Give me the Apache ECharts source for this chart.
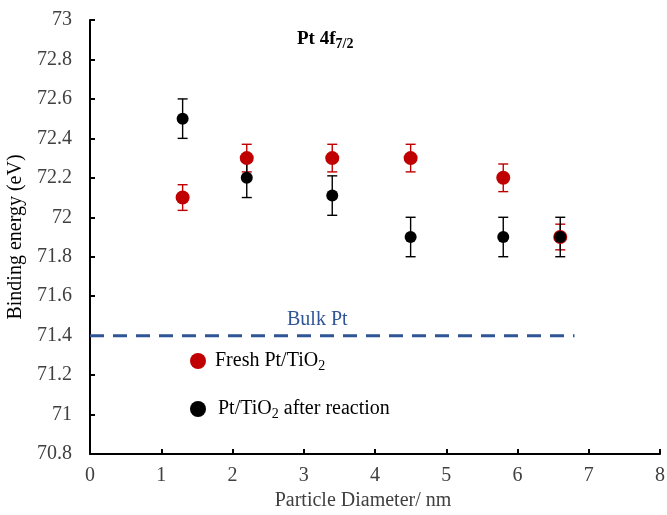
<!DOCTYPE html>
<html>
<head>
<meta charset="utf-8">
<script src="https://cdn.jsdelivr.net/npm/echarts@6/dist/echarts.min.js"></script>
<style>
  html, body { margin: 0; padding: 0; background: #fff; }
  #chart { width: 667px; height: 515px; }
</style>
</head>
<body>
<div id="chart"></div>
<script>
    // datos
    var diameters = [1.3, 2.2, 3.4, 4.5, 5.8, 6.6];
    var freshEnergy = [72.1, 72.3, 72.3, 72.3, 72.2, 71.9];
    var freshErr = [0.065, 0.07, 0.07, 0.07, 0.07, 0.065];
    var reactedEnergy = [72.5, 72.2, 72.11, 71.9, 71.9, 71.9];
    var reactedErr = [0.1, 0.1, 0.1, 0.1, 0.1, 0.1];
    var bulkPt = 71.4;
    var bulkRange = [0, 6.8];
    var yTicks = [70.8, 73, 0.2];
    var xTicks = [0, 8, 1];

    var serif = '"Liberation Serif", "Times New Roman", serif';
    var red = '#C00000';
    var blue = '#2F5597';
    var gris = '#404040';

    function pares(xs, ys) {
        return xs.map(function (x, i) { return [x, ys[i]]; });
    }

    function barras(xs, ys, errs) {
        return xs.map(function (x, i) { return [x, ys[i] - errs[i], ys[i] + errs[i]]; });
    }

    function errorBar(color) {
        return function (params, api) {
            var lo = api.coord([api.value(0), api.value(1)]);
            var hi = api.coord([api.value(0), api.value(2)]);
            var w = 5;
            var st = { stroke: color, lineWidth: 1.4 };
            return {
                type: 'group',
                children: [
                    { type: 'line', shape: { x1: lo[0], y1: lo[1], x2: hi[0], y2: hi[1] }, style: st },
                    { type: 'line', shape: { x1: lo[0] - w, y1: lo[1], x2: lo[0] + w, y2: lo[1] }, style: st },
                    { type: 'line', shape: { x1: hi[0] - w, y1: hi[1], x2: hi[0] + w, y2: hi[1] }, style: st }
                ]
            };
        };
    }

    var rich = {
        a: { fontFamily: serif, fontSize: 20, color: '#000', lineHeight: 22, padding: [0, 0, 0, 4] },
        b: { fontFamily: serif, fontSize: 20, color: '#000', lineHeight: 22, padding: [0, 0, 0, 7] },
        n: { fontFamily: serif, fontSize: 20, color: '#000', lineHeight: 22 },
        s: { fontFamily: serif, fontSize: 14, color: '#000', lineHeight: 22, padding: [10, 0, 0, 0] }
    };

    var chart = echarts.init(document.getElementById('chart'));
    chart.setOption({
        animation: false,
        title: {
            text: '{b|Pt 4f}{s|7/2}',
            left: 292,
            top: 23,
            textStyle: {
                rich: {
                    b: { fontFamily: serif, fontSize: 19, fontWeight: 'bold', color: '#000', lineHeight: 22 },
                    s: { fontFamily: serif, fontSize: 14, fontWeight: 'bold', color: '#000', lineHeight: 22, padding: [10, 0, 0, 0] }
                }
            }
        },
        grid: { left: 90, right: 7, top: 20, bottom: 61, outerBoundsMode: 'none' },
        legend: {
            orient: 'vertical',
            left: 185,
            top: 344,
            itemWidth: 16,
            itemHeight: 16,
            itemGap: 24,
            icon: 'circle',
            data: ['Fresh', 'Reacted'],
            formatter: function (name) {
                if (name === 'Fresh') return '{a|Fresh Pt/TiO}{s|2}';
                return '{b|Pt/TiO}{s|2}{n| after reaction}';
            },
            textStyle: { rich: rich }
        },
        xAxis: {
            type: 'value',
            min: xTicks[0],
            max: xTicks[1],
            interval: xTicks[2],
            name: 'Particle Diameter/ nm',
            nameLocation: 'middle',
            nameGap: 34,
            nameTextStyle: { fontFamily: serif, fontSize: 20, color: gris, padding: [0, 24, 0, 0] },
            axisLine: { lineStyle: { color: '#000', width: 2 } },
            axisTick: { inside: true, length: 5, lineStyle: { color: '#000', width: 2 } },
            axisLabel: { fontFamily: serif, fontSize: 20, color: gris, margin: 12 },
            splitLine: { show: false }
        },
        yAxis: {
            type: 'value',
            min: yTicks[0],
            max: yTicks[1],
            interval: yTicks[2],
            name: 'Binding energy (eV)',
            nameLocation: 'middle',
            nameGap: 62,
            nameTextStyle: { fontFamily: serif, fontSize: 20, color: '#000' },
            axisLine: { show: true, lineStyle: { color: '#000', width: 2 } },
            axisTick: { show: true, inside: true, length: 5, lineStyle: { color: '#000', width: 2 } },
            axisLabel: {
                fontFamily: serif, fontSize: 20, color: gris, margin: 18,
                formatter: function (v) { return String(Math.round(v * 10) / 10); }
            },
            splitLine: { show: false }
        },
        graphic: [{
            type: 'text',
            left: 287,
            top: 310,
            style: { text: 'Bulk Pt', fontFamily: serif, fontSize: 20, fill: blue }
        }],
        series: [
            {
                name: 'Bulk',
                type: 'line',
                data: [[bulkRange[0], bulkPt], [bulkRange[1], bulkPt]],
                symbol: 'none',
                lineStyle: { color: blue, width: 3, type: [14, 9] },
                z: 1
            },
            {
                name: 'FreshErr',
                type: 'custom',
                renderItem: errorBar(red),
                data: barras(diameters, freshEnergy, freshErr),
                encode: { x: 0, y: [1, 2] },
                z: 2
            },
            {
                name: 'ReactedErr',
                type: 'custom',
                renderItem: errorBar('#000'),
                data: barras(diameters, reactedEnergy, reactedErr),
                encode: { x: 0, y: [1, 2] },
                z: 3
            },
            {
                name: 'Fresh',
                type: 'scatter',
                data: pares(diameters, freshEnergy),
                symbolSize: 14,
                itemStyle: { color: red, opacity: 1 },
                z: 4
            },
            {
                name: 'Reacted',
                type: 'scatter',
                data: pares(diameters, reactedEnergy),
                symbolSize: 12,
                itemStyle: { color: '#000', opacity: 1 },
                z: 5
            }
        ]
    });
</script>
</body>
</html>
